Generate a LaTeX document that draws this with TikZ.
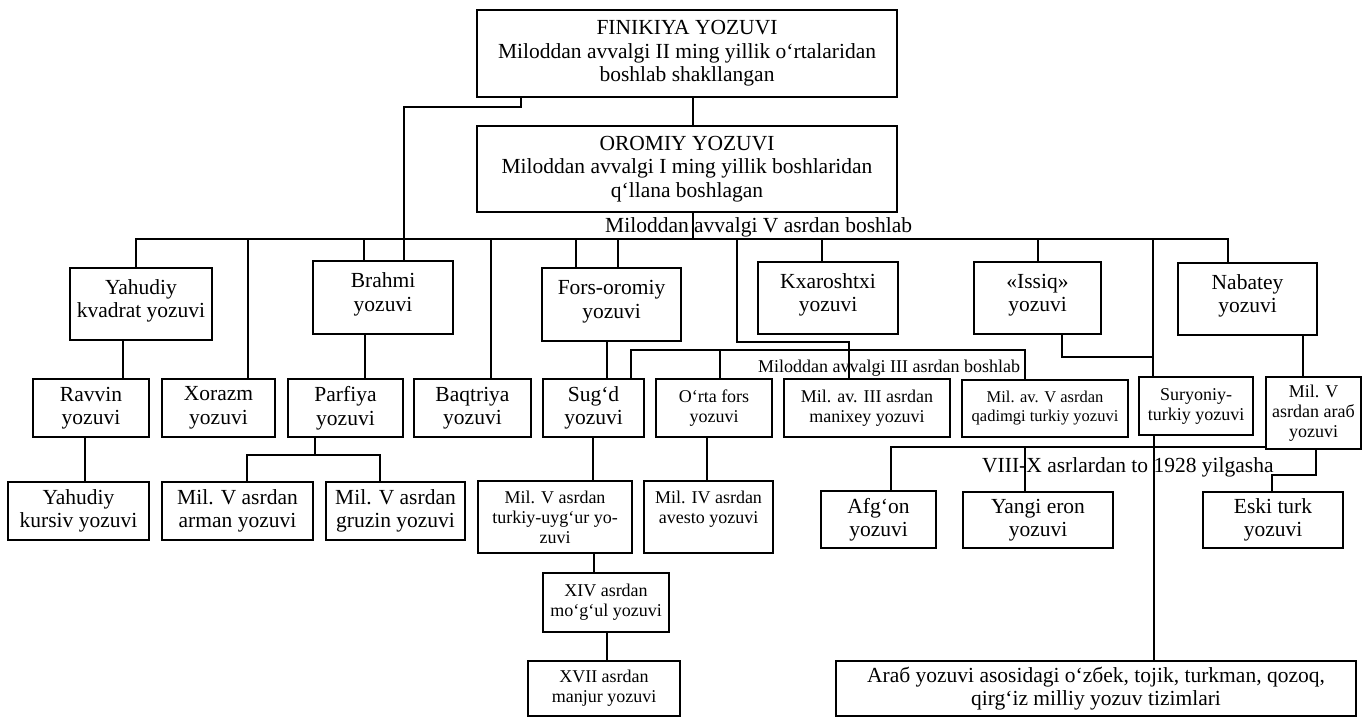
\documentclass[tikz,border=0pt]{standalone}
\usepackage{fontspec}
\setmainfont{Liberation Serif}
\newcommand\fbig{\fontsize{21.5}{23.5}\selectfont}
\newcommand\fmed{\fontsize{18}{20}\selectfont}
\newcommand\fsml{\fontsize{16.5}{19}\selectfont}
\newcommand\upx{\\[-13pt]\mbox{}}
\tikzset{
  box/.style={draw, line width=1.7pt, inner sep=0pt, align=center, font=\fbig},
  medbox/.style={box, font=\fmed},
  smlbox/.style={box, font=\fsml},
  conn/.style={line width=1.7pt, line cap=rect},
  lbl/.style={inner sep=0pt, font=\fbig},
}
\newcommand\mybox[7]{%
  \node[#6, minimum width={#4-#2}, minimum height={#5-#3}] (#1) at ({(#2+#4)/2},{(#3+#5)/2}) {#7};}
\begin{document}
\begin{tikzpicture}[x=1pt,y=-1pt]
\useasboundingbox (0,0) rectangle (1364,718);
% boxes
\mybox{fin}{477}{10}{897}{97}{box}{FINIKIYA YOZUVI\\Miloddan avvalgi II ming yillik o‘rtalaridan\\boshlab shakllangan}
\mybox{or}{477}{126}{897}{212}{box}{OROMIY YOZUVI\\Miloddan avvalgi I ming yillik boshlaridan\\q‘llana boshlagan}
\mybox{ykv}{70}{268}{212}{340}{box}{Yahudiy\\kvadrat yozuvi\upx}
\mybox{brahmi}{313}{261}{453}{334}{box}{Brahmi\\yozuvi\upx}
\mybox{fors}{542}{268}{681}{341}{box}{Fors-oromiy\\yozuvi\upx}
\mybox{kx}{758}{262}{898}{334}{box}{Kxaroshtxi\\yozuvi\upx}
\mybox{iss}{974}{262}{1101}{334}{box}{«Issiq»\\yozuvi\upx}
\mybox{nab}{1178}{263}{1317}{335}{box}{Nabatey\\yozuvi\upx}
\mybox{rav}{33}{379}{149}{437}{box}{Ravvin\\yozuvi}
\mybox{xz}{162}{379}{275}{437}{box}{Xorazm\\yozuvi}
\mybox{parf}{288}{379}{403}{437}{box}{Parfiya\\yozuvi}
\mybox{baq}{414}{379}{531}{437}{box}{Baqtriya\\yozuvi}
\mybox{sugd}{543}{379}{644}{437}{box}{Sug‘d\\yozuvi}
\mybox{orta}{656}{379}{772}{437}{medbox}{O‘rta fors\\yozuvi}
\mybox{man}{784}{379}{950}{437}{medbox}{Mil. av. III asrdan\\manixey yozuvi}
\mybox{qad}{962}{380}{1128}{437}{smlbox}{Mil. av. V asrdan\\qadimgi turkiy yozuvi}
\mybox{sur}{1139}{377}{1253}{435}{medbox}{Suryoniy-\\turkiy yozuvi}
\mybox{arv}{1266}{377}{1361}{449}{medbox}{Mil. V\\asrdan araб\\yozuvi}
\mybox{ykur}{8}{482}{149}{540}{box}{Yahudiy\\kursiv yozuvi}
\mybox{arm}{162}{482}{313}{540}{box}{Mil. V asrdan\\arman yozuvi}
\mybox{gru}{326}{482}{465}{540}{box}{Mil. V asrdan\\gruzin yozuvi}
\mybox{tu}{478}{481}{632}{553}{medbox}{Mil. V asrdan\\turkiy-uyg‘ur yo-\\zuvi}
\mybox{av}{644}{481}{773}{553}{medbox}{Mil. IV asrdan\\avesto yozuvi\\\mbox{}}
\mybox{mog}{543}{573}{669}{632}{medbox}{XIV asrdan\\mo‘g‘ul yozuvi}
\mybox{manj}{528}{661}{680}{716}{medbox}{XVII asrdan\\manjur yozuvi}
\mybox{afg}{821}{491}{936}{548}{box}{Afg‘on\\yozuvi}
\mybox{yeron}{963}{492}{1113}{548}{box}{Yangi eron\\yozuvi}
\mybox{eski}{1203}{492}{1343}{548}{box}{Eski turk\\yozuvi}
\mybox{arab}{836}{661}{1356}{716}{box}{Araб yozuvi asosidagi o‘zбek, tojik, turkman, qozoq,\\qirg‘iz milliy yozuv tizimlari}
% labels
\node[lbl, anchor=base west] (l1) at (605,232) {Miloddan avvalgi V asrdan boshlab};
\node[lbl, anchor=base west, font=\fmed] (l2) at (758,372) {Miloddan avvalgi III asrdan boshlab};
\node[lbl, anchor=base west] (l3) at (982,472) {VIII-X asrlardan to 1928 yilgasha};
% bus coordinates
\coordinate (b1L) at (136,239);
\coordinate (b1R) at (1228,239);
\coordinate (b2L) at (631,350);
\coordinate (b2R) at (1025,350);
\coordinate (b3L) at (891,447);
\coordinate (pL) at (247,455);
\coordinate (pR) at (380,455);
% connectors
\begin{scope}[conn]
\draw (fin.south -| 693,0) -- (or.north -| 693,0);
\draw (fin.south -| 521,0) |- (404,107) -- (brahmi.north -| 404,0);
\draw (or.south -| 693,0) -- (693,239);
\draw (b1L) -- (b1R);
\draw (b1L) -- (ykv.north -| b1L);
\draw (248,239) -- (xz.north -| 248,0);
\draw (364,239) -- (brahmi.north -| 364,0);
\draw (491,239) -- (baq.north -| 491,0);
\draw (576,239) -- (fors.north -| 576,0);
\draw (618,239) -- (fors.north -| 618,0);
\draw (737,239) |- (849,342) -- (man.north -| 849,0);
\draw (822,239) -- (kx.north -| 822,0);
\draw (1038,239) -- (iss.north -| 1038,0);
\draw (1153,239) -- (sur.north -| 1153,0);
\draw (b1R) -- (nab.north -| b1R);
\draw (iss.south -| 1062,0) |- (1153,357);
\draw (ykv.south -| 123,0) -- (rav.north -| 123,0);
\draw (brahmi.south -| 365,0) -- (parf.north -| 365,0);
\draw (fors.south -| 607,0) -- (sugd.north -| 607,0);
\draw (b2L) -- (b2R);
\draw (b2L) -- (sugd.north -| b2L);
\draw (720,350) -- (orta.north -| 720,0);
\draw (b2R) -- (qad.north -| b2R);
\draw (nab.south -| 1303,0) -- (arv.north -| 1303,0);
\draw (rav.south -| 85,0) -- (ykur.north -| 85,0);
\draw (parf.south -| 315,0) -- (315,455);
\draw (pL) -- (pR);
\draw (pL) -- (arm.north -| pL);
\draw (pR) -- (gru.north -| pR);
\draw (sugd.south -| 593,0) -- (tu.north -| 593,0);
\draw (orta.south -| 707,0) -- (av.north -| 707,0);
\draw (tu.south -| 594,0) -- (mog.north -| 594,0);
\draw (mog.south -| 607,0) -- (manj.north -| 607,0);
\draw (b3L) -- (arv.west |- b3L);
\draw (b3L) -- (afg.north -| b3L);
\draw (1025,447) -- (yeron.north -| 1025,0);
\draw (arv.south -| 1316,0) |- (1272,475) -- (eski.north -| 1272,0);
\draw (sur.south -| 1154,0) -- (arab.north -| 1154,0);
\end{scope}
\end{tikzpicture}
\end{document}
